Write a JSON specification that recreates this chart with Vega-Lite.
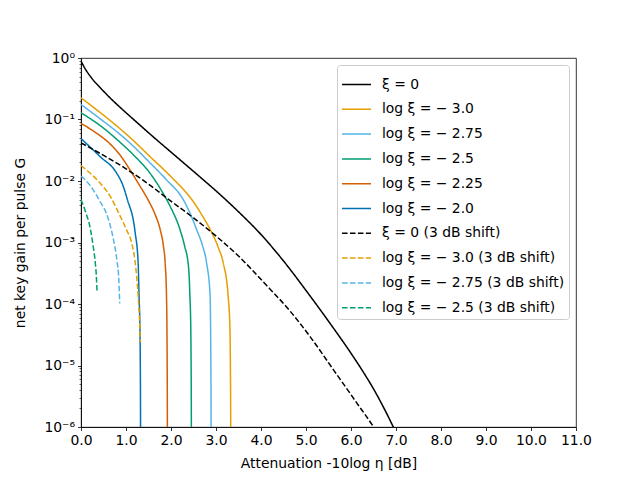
{
  "$schema": "https://vega.github.io/schema/vega-lite/v6.json",
  "width": 495,
  "height": 369,
  "autosize": {"type": "none"},
  "padding": {"left": 81, "top": 58, "right": 64, "bottom": 53},
  "config": {
    "font": "DejaVu Sans",
    "view": {"stroke": "black", "strokeWidth": 0.8},
    "axis": {
      "grid": false,
      "domainColor": "black",
      "domainWidth": 0.8,
      "tickColor": "black",
      "tickWidth": 0.8,
      "tickSize": 3.5,
      "labelColor": "black",
      "labelFont": "DejaVu Sans",
      "labelFontSize": 13.9,
      "titleFont": "DejaVu Sans",
      "titleFontSize": 13.9,
      "titleFontWeight": "normal",
      "titleColor": "black"
    },
    "legend": {
      "title": null,
      "orient": "top-right",
      "offset": 7,
      "padding": 4,
      "symbolType": "stroke",
      "symbolSize": 841,
      "symbolStrokeWidth": 1.5,
      "rowPadding": 1.8,
      "labelOffset": 10,
      "labelFont": "DejaVu Sans",
      "labelFontSize": 13.9,
      "labelColor": "black",
      "labelLimit": 400,
      "fillColor": "rgba(255,255,255,0.8)",
      "strokeColor": "#cccccc",
      "cornerRadius": 3
    }
  },
  "data": {
    "values": [
      {"s": "ξ = 0", "x": 0, "g": 0.891},
      {"s": "ξ = 0", "x": 0.08, "g": 0.692},
      {"s": "ξ = 0", "x": 0.23, "g": 0.479},
      {"s": "ξ = 0", "x": 0.45, "g": 0.316},
      {"s": "ξ = 0", "x": 0.67, "g": 0.216},
      {"s": "ξ = 0", "x": 0.867, "g": 0.158},
      {"s": "ξ = 0", "x": 1.2, "g": 0.0955},
      {"s": "ξ = 0", "x": 1.68, "g": 0.0468},
      {"s": "ξ = 0", "x": 2.0, "g": 0.0295},
      {"s": "ξ = 0", "x": 2.64, "g": 0.0117},
      {"s": "ξ = 0", "x": 3.09, "g": 6.03e-3},
      {"s": "ξ = 0", "x": 3.5, "g": 3.16e-3},
      {"s": "ξ = 0", "x": 4.0, "g": 1.35e-3},
      {"s": "ξ = 0", "x": 4.5, "g": 5.01e-4},
      {"s": "ξ = 0", "x": 5.0, "g": 1.66e-4},
      {"s": "ξ = 0", "x": 5.5, "g": 5.25e-5},
      {"s": "ξ = 0", "x": 6.0, "g": 1.58e-5},
      {"s": "ξ = 0", "x": 6.25, "g": 8.32e-6},
      {"s": "ξ = 0", "x": 6.5, "g": 4.17e-6},
      {"s": "ξ = 0", "x": 6.75, "g": 1.91e-6},
      {"s": "ξ = 0", "x": 6.94, "g": 1e-6},
      {"s": "ξ = 0", "x": 7.05, "g": 6.76e-7},

      {"s": "log ξ = − 3.0", "x": 0, "g": 0.2254},
      {"s": "log ξ = − 3.0", "x": 0.5, "g": 0.1175},
      {"s": "log ξ = − 3.0", "x": 0.867, "g": 0.0708},
      {"s": "log ξ = − 3.0", "x": 1.16, "g": 0.0457},
      {"s": "log ξ = − 3.0", "x": 1.5, "g": 0.0263},
      {"s": "log ξ = − 3.0", "x": 2.0, "g": 0.01175},
      {"s": "log ξ = − 3.0", "x": 2.46, "g": 5.01e-3},
      {"s": "log ξ = − 3.0", "x": 2.75, "g": 2.34e-3},
      {"s": "log ξ = − 3.0", "x": 2.9, "g": 1.48e-3},
      {"s": "log ξ = − 3.0", "x": 3.05, "g": 8.32e-4},
      {"s": "log ξ = − 3.0", "x": 3.16, "g": 4.68e-4},
      {"s": "log ξ = − 3.0", "x": 3.27, "g": 1.35e-4},
      {"s": "log ξ = − 3.0", "x": 3.31, "g": 3.89e-5},
      {"s": "log ξ = − 3.0", "x": 3.32, "g": 1e-5},
      {"s": "log ξ = − 3.0", "x": 3.325, "g": 2.51e-6},
      {"s": "log ξ = − 3.0", "x": 3.33, "g": 1e-7},

      {"s": "log ξ = − 2.75", "x": 0, "g": 0.1754},
      {"s": "log ξ = − 2.75", "x": 0.5, "g": 0.0933},
      {"s": "log ξ = − 2.75", "x": 0.867, "g": 0.0575},
      {"s": "log ξ = − 2.75", "x": 1.2, "g": 0.0347},
      {"s": "log ξ = − 2.75", "x": 1.5, "g": 0.0209},
      {"s": "log ξ = − 2.75", "x": 1.9, "g": 0.01047},
      {"s": "log ξ = − 2.75", "x": 2.27, "g": 5.01e-3},
      {"s": "log ξ = − 2.75", "x": 2.42, "g": 3.02e-3},
      {"s": "log ξ = − 2.75", "x": 2.57, "g": 1.62e-3},
      {"s": "log ξ = − 2.75", "x": 2.7, "g": 8.91e-4},
      {"s": "log ξ = − 2.75", "x": 2.79, "g": 4.68e-4},
      {"s": "log ξ = − 2.75", "x": 2.87, "g": 1.35e-4},
      {"s": "log ξ = − 2.75", "x": 2.88, "g": 3.89e-5},
      {"s": "log ξ = − 2.75", "x": 2.886, "g": 1e-5},
      {"s": "log ξ = − 2.75", "x": 2.89, "g": 2.51e-6},
      {"s": "log ξ = − 2.75", "x": 2.893, "g": 1e-7},

      {"s": "log ξ = − 2.5", "x": 0, "g": 0.1288},
      {"s": "log ξ = − 2.5", "x": 0.5, "g": 0.0724},
      {"s": "log ξ = − 2.5", "x": 0.867, "g": 0.0427},
      {"s": "log ξ = − 2.5", "x": 1.2, "g": 0.0251},
      {"s": "log ξ = − 2.5", "x": 1.53, "g": 0.0135},
      {"s": "log ξ = − 2.5", "x": 1.8, "g": 6.76e-3},
      {"s": "log ξ = − 2.5", "x": 1.98, "g": 3.89e-3},
      {"s": "log ξ = − 2.5", "x": 2.2, "g": 1.62e-3},
      {"s": "log ξ = − 2.5", "x": 2.3, "g": 8.91e-4},
      {"s": "log ξ = − 2.5", "x": 2.39, "g": 3.98e-4},
      {"s": "log ξ = − 2.5", "x": 2.42, "g": 1.35e-4},
      {"s": "log ξ = − 2.5", "x": 2.44, "g": 3.89e-5},
      {"s": "log ξ = − 2.5", "x": 2.447, "g": 1e-5},
      {"s": "log ξ = − 2.5", "x": 2.451, "g": 2.51e-6},
      {"s": "log ξ = − 2.5", "x": 2.455, "g": 1e-7},

      {"s": "log ξ = − 2.25", "x": 0, "g": 0.0861},
      {"s": "log ξ = − 2.25", "x": 0.3, "g": 0.0631},
      {"s": "log ξ = − 2.25", "x": 0.65, "g": 0.0398},
      {"s": "log ξ = − 2.25", "x": 0.87, "g": 0.0263},
      {"s": "log ξ = − 2.25", "x": 1.09, "g": 0.0151},
      {"s": "log ξ = − 2.25", "x": 1.3, "g": 8.51e-3},
      {"s": "log ξ = − 2.25", "x": 1.5, "g": 4.79e-3},
      {"s": "log ξ = − 2.25", "x": 1.65, "g": 2.82e-3},
      {"s": "log ξ = − 2.25", "x": 1.76, "g": 1.62e-3},
      {"s": "log ξ = − 2.25", "x": 1.83, "g": 8.91e-4},
      {"s": "log ξ = − 2.25", "x": 1.87, "g": 4.68e-4},
      {"s": "log ξ = − 2.25", "x": 1.9, "g": 1.35e-4},
      {"s": "log ξ = − 2.25", "x": 1.91, "g": 3.89e-5},
      {"s": "log ξ = − 2.25", "x": 1.915, "g": 1e-5},
      {"s": "log ξ = − 2.25", "x": 1.918, "g": 2.51e-6},
      {"s": "log ξ = − 2.25", "x": 1.921, "g": 1e-7},

      {"s": "log ξ = − 2.0", "x": 0, "g": 0.049},
      {"s": "log ξ = − 2.0", "x": 0.42, "g": 0.0251},
      {"s": "log ξ = − 2.0", "x": 0.79, "g": 0.0135},
      {"s": "log ξ = − 2.0", "x": 0.92, "g": 8.91e-3},
      {"s": "log ξ = − 2.0", "x": 1.03, "g": 5.01e-3},
      {"s": "log ξ = − 2.0", "x": 1.2, "g": 1.51e-3},
      {"s": "log ξ = − 2.0", "x": 1.27, "g": 4.68e-4},
      {"s": "log ξ = − 2.0", "x": 1.29, "g": 1.35e-4},
      {"s": "log ξ = − 2.0", "x": 1.31, "g": 3.89e-5},
      {"s": "log ξ = − 2.0", "x": 1.318, "g": 1e-5},
      {"s": "log ξ = − 2.0", "x": 1.322, "g": 2.51e-6},
      {"s": "log ξ = − 2.0", "x": 1.325, "g": 1e-7},

      {"s": "ξ = 0 (3 dB shift)", "x": 0, "g": 0.0417},
      {"s": "ξ = 0 (3 dB shift)", "x": 0.42, "g": 0.0282},
      {"s": "ξ = 0 (3 dB shift)", "x": 1.0, "g": 0.0158},
      {"s": "ξ = 0 (3 dB shift)", "x": 1.5, "g": 8.91e-3},
      {"s": "ξ = 0 (3 dB shift)", "x": 1.93, "g": 5.13e-3},
      {"s": "ξ = 0 (3 dB shift)", "x": 2.5, "g": 2.51e-3},
      {"s": "ξ = 0 (3 dB shift)", "x": 2.83, "g": 1.62e-3},
      {"s": "ξ = 0 (3 dB shift)", "x": 3.09, "g": 1.12e-3},
      {"s": "ξ = 0 (3 dB shift)", "x": 3.5, "g": 6.03e-4},
      {"s": "ξ = 0 (3 dB shift)", "x": 4.05, "g": 2.29e-4},
      {"s": "ξ = 0 (3 dB shift)", "x": 4.64, "g": 7.76e-5},
      {"s": "ξ = 0 (3 dB shift)", "x": 5.09, "g": 2.95e-5},
      {"s": "ξ = 0 (3 dB shift)", "x": 5.61, "g": 8.51e-6},
      {"s": "ξ = 0 (3 dB shift)", "x": 6.13, "g": 2.45e-6},
      {"s": "ξ = 0 (3 dB shift)", "x": 6.5, "g": 1e-6},
      {"s": "ξ = 0 (3 dB shift)", "x": 6.6, "g": 7.59e-7},

      {"s": "log ξ = − 3.0 (3 dB shift)", "x": 0, "g": 0.01778},
      {"s": "log ξ = − 3.0 (3 dB shift)", "x": 0.2, "g": 0.0135},
      {"s": "log ξ = − 3.0 (3 dB shift)", "x": 0.42, "g": 9.33e-3},
      {"s": "log ξ = − 3.0 (3 dB shift)", "x": 0.65, "g": 5.62e-3},
      {"s": "log ξ = − 3.0 (3 dB shift)", "x": 0.87, "g": 2.69e-3},
      {"s": "log ξ = − 3.0 (3 dB shift)", "x": 1.01, "g": 1.62e-3},
      {"s": "log ξ = − 3.0 (3 dB shift)", "x": 1.13, "g": 9.55e-4},
      {"s": "log ξ = − 3.0 (3 dB shift)", "x": 1.2, "g": 5.01e-4},
      {"s": "log ξ = − 3.0 (3 dB shift)", "x": 1.27, "g": 1.35e-4},
      {"s": "log ξ = − 3.0 (3 dB shift)", "x": 1.31, "g": 3.89e-5},
      {"s": "log ξ = − 3.0 (3 dB shift)", "x": 1.32, "g": 2.4e-5},

      {"s": "log ξ = − 2.75 (3 dB shift)", "x": 0, "g": 0.01202},
      {"s": "log ξ = − 2.75 (3 dB shift)", "x": 0.2, "g": 8.51e-3},
      {"s": "log ξ = − 2.75 (3 dB shift)", "x": 0.42, "g": 4.68e-3},
      {"s": "log ξ = − 2.75 (3 dB shift)", "x": 0.6, "g": 2.51e-3},
      {"s": "log ξ = − 2.75 (3 dB shift)", "x": 0.72, "g": 1.12e-3},
      {"s": "log ξ = − 2.75 (3 dB shift)", "x": 0.8, "g": 5.01e-4},
      {"s": "log ξ = − 2.75 (3 dB shift)", "x": 0.84, "g": 2.51e-4},
      {"s": "log ξ = − 2.75 (3 dB shift)", "x": 0.86, "g": 1.02e-4},

      {"s": "log ξ = − 2.5 (3 dB shift)", "x": 0, "g": 5.01e-3},
      {"s": "log ξ = − 2.5 (3 dB shift)", "x": 0.1, "g": 3.16e-3},
      {"s": "log ξ = − 2.5 (3 dB shift)", "x": 0.2, "g": 1.78e-3},
      {"s": "log ξ = − 2.5 (3 dB shift)", "x": 0.27, "g": 8.71e-4},
      {"s": "log ξ = − 2.5 (3 dB shift)", "x": 0.32, "g": 4.47e-4},
      {"s": "log ξ = − 2.5 (3 dB shift)", "x": 0.345, "g": 2.51e-4},
      {"s": "log ξ = − 2.5 (3 dB shift)", "x": 0.356, "g": 1.58e-4}
    ]
  },
  "mark": {"type": "line", "strokeWidth": 1.5, "clip": true, "interpolate": "monotone"},
  "encoding": {
    "x": {
      "field": "x",
      "type": "quantitative",
      "scale": {"domain": [0, 11], "nice": false, "zero": false},
      "axis": {
        "values": [0, 1, 2, 3, 4, 5, 6, 7, 8, 9, 10, 11],
        "format": ".1f",
        "labelFlush": false,
        "labelPadding": 3,
        "title": "Attenuation -10log η [dB]",
        "titlePadding": 9
      }
    },
    "y": {
      "field": "g",
      "type": "quantitative",
      "scale": {"type": "log", "domain": [1e-6, 1], "nice": false},
      "axis": {
        "values": [
          1e-6, 2e-6, 3e-6, 4e-6, 5e-6, 6e-6, 7e-6, 8e-6, 9e-6,
          1e-5, 2e-5, 3e-5, 4e-5, 5e-5, 6e-5, 7e-5, 8e-5, 9e-5,
          1e-4, 2e-4, 3e-4, 4e-4, 5e-4, 6e-4, 7e-4, 8e-4, 9e-4,
          1e-3, 2e-3, 3e-3, 4e-3, 5e-3, 6e-3, 7e-3, 8e-3, 9e-3,
          0.01, 0.02, 0.03, 0.04, 0.05, 0.06, 0.07, 0.08, 0.09,
          0.1, 0.2, 0.3, 0.4, 0.5, 0.6, 0.7, 0.8, 0.9, 1
        ],
        "labelExpr": "abs(log(datum.value)/LN10 - round(log(datum.value)/LN10)) < 0.01 ? ['10⁻⁶','10⁻⁵','10⁻⁴','10⁻³','10⁻²','10⁻¹','10⁰'][round(log(datum.value)/LN10)+6] : ''",
        "labelOverlap": false,
        "labelBound": false,
        "labelPadding": 3,
        "tickSize": {
          "condition": {"test": "abs(log(datum.value)/LN10 - round(log(datum.value)/LN10)) < 0.01", "value": 3.5},
          "value": 2
        },
        "tickWidth": {
          "condition": {"test": "abs(log(datum.value)/LN10 - round(log(datum.value)/LN10)) < 0.01", "value": 0.8},
          "value": 0.6
        },
        "title": "net key gain per pulse G",
        "titlePadding": 16
      }
    },
    "color": {
      "field": "s",
      "type": "nominal",
      "scale": {
        "domain": [
          "ξ = 0", "log ξ = − 3.0", "log ξ = − 2.75", "log ξ = − 2.5", "log ξ = − 2.25", "log ξ = − 2.0",
          "ξ = 0 (3 dB shift)", "log ξ = − 3.0 (3 dB shift)", "log ξ = − 2.75 (3 dB shift)", "log ξ = − 2.5 (3 dB shift)"
        ],
        "range": ["#000000", "#E69F00", "#56B4E9", "#009E73", "#D55E00", "#0072B2", "#000000", "#E69F00", "#56B4E9", "#009E73"]
      }
    },
    "strokeDash": {
      "field": "s",
      "type": "nominal",
      "scale": {
        "domain": [
          "ξ = 0", "log ξ = − 3.0", "log ξ = − 2.75", "log ξ = − 2.5", "log ξ = − 2.25", "log ξ = − 2.0",
          "ξ = 0 (3 dB shift)", "log ξ = − 3.0 (3 dB shift)", "log ξ = − 2.75 (3 dB shift)", "log ξ = − 2.5 (3 dB shift)"
        ],
        "range": [[1, 0], [1, 0], [1, 0], [1, 0], [1, 0], [1, 0], [5.55, 2.4], [5.55, 2.4], [5.55, 2.4], [5.55, 2.4]]
      }
    }
  }
}
